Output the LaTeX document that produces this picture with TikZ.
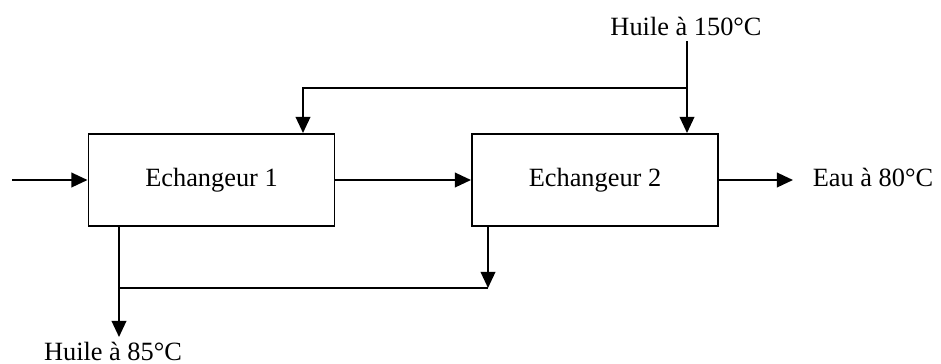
\documentclass[tikz,border=0pt]{standalone}
\usepackage{fontspec}
\setmainfont{Liberation Serif}
\usetikzlibrary{arrows.meta, positioning}

\begin{document}
\begin{tikzpicture}[
  x=0.016cm, y=-0.016cm,
  box/.style={draw, line width=0.9pt, minimum width=246*0.016cm, minimum height=92*0.016cm, inner sep=0pt, font=\fontsize{12}{14}\selectfont},
  lbl/.style={inner sep=2pt, font=\fontsize{12}{14}\selectfont},
  arr/.style={-{Triangle[length=7.3pt, width=6.6pt]}, line width=0.9pt},
  flow/.style={line width=0.9pt}
]
  \useasboundingbox (0,0) rectangle (941,363);

  \node[box] (ech1) at (211.5,180) {Echangeur 1};
  \node[box] (ech2) at (595,180) {Echangeur 2};

  \node[lbl, anchor=south] (h150) at (686,41) {Huile à 150°C};
  \node[lbl, anchor=west] (eau) at (808,177) {Eau à 80°C};
  \node[lbl, anchor=north] (h85) at (113,337) {Huile à 85°C};

  \coordinate (entree) at (12,180);
  \coordinate (sortie) at (793,180);
  \coordinate (haut) at (687,88);
  \coordinate (hautg) at (303,88);
  \coordinate (bas1) at (119,226);
  \coordinate (bas2) at (488,226);
  \coordinate (basd) at (488,288);
  \coordinate (basg) at (119,288);

  \draw[arr] (entree) -- (ech1);
  \draw[arr] (ech1) -- (ech2);
  \draw[arr] (ech2.east |- sortie) -- (sortie);

  % huile chaude
  \draw[arr] (haut |- h150.south) -- (haut |- ech2.north);
  \draw[arr] (haut) -- (hautg) -- (hautg |- ech1.north);

  % huile froide
  \draw[arr] (bas2) -- (basd);
  \draw[flow] (basd) -- (basg);
  \draw[arr] (bas1) -- (h85.north -| bas1);
\end{tikzpicture}
\end{document}
